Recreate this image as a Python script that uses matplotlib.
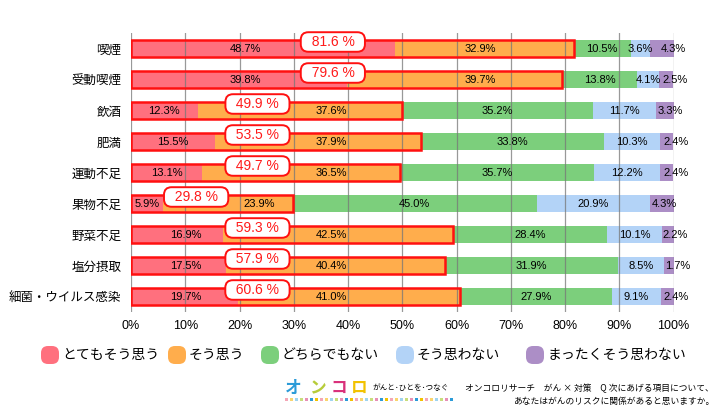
import matplotlib
matplotlib.use('Agg')
import matplotlib.pyplot as plt
from matplotlib.patches import FancyBboxPatch, Rectangle
import numpy as np

# Data
categories = ['喫煙', '受動喫煙', '飲酒', '肥満', '運動不足', '果物不足', '野菜不足', '塩分摂取', '細菌・ウイルス感染']
very_agree = [48.7, 39.8, 12.3, 15.5, 13.1, 5.9, 16.9, 17.5, 19.7]
agree = [32.9, 39.7, 37.6, 37.9, 36.5, 23.9, 42.5, 40.4, 41.0]
neutral = [10.5, 13.8, 35.2, 33.8, 35.7, 45.0, 28.4, 31.9, 27.9]
disagree = [3.6, 4.1, 11.7, 10.3, 12.2, 20.9, 10.1, 8.5, 9.1]
strongly_disagree = [4.3, 2.5, 3.3, 2.4, 2.4, 4.3, 2.2, 1.7, 2.4]
agree_totals = [81.6, 79.6, 49.9, 53.5, 49.7, 29.8, 59.3, 57.9, 60.6]
series_names = ['とてもそう思う', 'そう思う', 'どちらでもない', 'そう思わない', 'まったくそう思わない']
x_ticks = [0, 10, 20, 30, 40, 50, 60, 70, 80, 90, 100]

# Style / layout
colors = ['#FF707E', '#FFAD4C', '#7CCF7C', '#B3D3F7', '#AC8EC6']
bubble_x = [37.2, 37.2, 23.3, 23.3, 23.3, 12, 23.3, 23.3, 23.3]
# label positions that the original chart moved away from the segment centre
label_x_override = {
    0: [21.1, 21.1, None, None, None, None, 10.1, 10.1, 10.1],
    1: [64.4, 64.4, 36.9, 36.9, 36.9, 23.7, 36.9, 36.9, 36.9],
    4: [100.0, 100.3, 99.4, 100.4, 100.4, 98.3, 100.3, 100.8, 100.4],
}
jp_font = ['Noto Sans CJK JP', 'DejaVu Sans']
num_font = ['Liberation Sans', 'DejaVu Sans']

fig = plt.figure(figsize=(7.2, 4.11), dpi=100)
ax = fig.add_axes([0.182, 0.2409, 0.7535, 0.6788])

series = [very_agree, agree, neutral, disagree, strongly_disagree]
y = np.arange(len(categories))
bar_h = 0.55
left = np.zeros(len(categories))
for si, (vals, col) in enumerate(zip(series, colors)):
    vals = np.array(vals)
    ax.barh(y, vals, left=left, height=bar_h, color=col, zorder=2)
    overrides = label_x_override.get(si, [None] * len(categories))
    for yi, l, v, ox in zip(y, left, vals, overrides):
        lx = l + v / 2 if ox is None else ox
        ax.text(lx, yi + 0.02, f'{v:.1f}%', ha='center', va='center',
                fontsize=8, family=num_font, zorder=5)
    left = left + vals

# red outline around the agree group
first_two = np.array(very_agree) + np.array(agree)
ax.barh(y, first_two, height=bar_h, fill=False, edgecolor='#FF1010',
        linewidth=1.8, zorder=4)

# bubbles with agree totals
for yi, bx, tot in zip(y, bubble_x, agree_totals):
    ax.text(bx, yi - 0.21, f'  {tot:.1f} %  ', ha='center', va='center',
            fontsize=10, color='#FF1A1A', family=num_font, zorder=6,
            bbox=dict(boxstyle='round,pad=0.2,rounding_size=0.55',
                      fc='white', ec='#FF1010', lw=1.4))

# gridlines over bars
for xt in x_ticks:
    ax.axvline(xt, color='#777777', lw=0.9, alpha=0.75, zorder=3)

ax.set_xlim(0, 100)
ax.set_ylim(len(categories) - 0.5, -0.5)
ax.set_xticks(x_ticks)
ax.set_xticklabels([f'{t}%' for t in x_ticks], family=num_font, fontsize=9)
ax.set_yticks(y)
ax.set_yticklabels(categories, family=jp_font, fontsize=9)
ax.tick_params(axis='y', length=0, pad=7)
ax.tick_params(axis='x', length=0, pad=6)
for s in ax.spines.values():
    s.set_visible(False)

# Legend
legend_x = [50, 177, 270, 405, 535]
leg_y = 411 - 355
for lx, col, name in zip(legend_x, colors, series_names):
    fig.patches.append(FancyBboxPatch((lx - 9, leg_y - 9), 18, 18,
                       boxstyle='round,pad=0,rounding_size=7',
                       transform=None, fc=col, ec='none'))
    fig.text((lx + 12) / 720, leg_y / 411, name, ha='left', va='center',
             fontsize=10, family=jp_font)

# Footer
logo_chars = ['オ', 'ン', 'コ', 'ロ']
logo_cols = ['#2B9BD8', '#B7CC3A', '#D9307A', '#F2C200']
logo_x = [293, 317, 339, 359]
for ch, c, lx in zip(logo_chars, logo_cols, logo_x):
    fig.text(lx / 720, (411 - 388) / 411, ch, color=c, ha='center', va='center',
             fontsize=12, fontweight='bold', family=jp_font)
dash_cols = ['#F4A6B6', '#F9D56E', '#9FD4EF', '#C9DD7C', '#E88FB5', '#2B9BD8', '#F2C200']
for k, dx in enumerate(range(285, 455, 5)):
    fig.patches.append(Rectangle((dx, 411 - 401), 3, 3, transform=None,
                                 fc=dash_cols[k % len(dash_cols)], ec='none'))
fig.text(372 / 720, (411 - 388) / 411, 'がんと･ひとを･つなぐ', ha='left', va='center',
         fontsize=5.5, family=jp_font)
fig.text(714 / 720, (411 - 388) / 411, 'オンコロリサーチ　がん × 対策　Q 次にあげる項目について、',
         ha='right', va='center', fontsize=6.3, family=jp_font)
fig.text(714 / 720, (411 - 401) / 411, 'あなたはがんのリスクに関係があると思いますか。',
         ha='right', va='center', fontsize=6.3, family=jp_font)

fig.savefig('out.png', dpi=100)
